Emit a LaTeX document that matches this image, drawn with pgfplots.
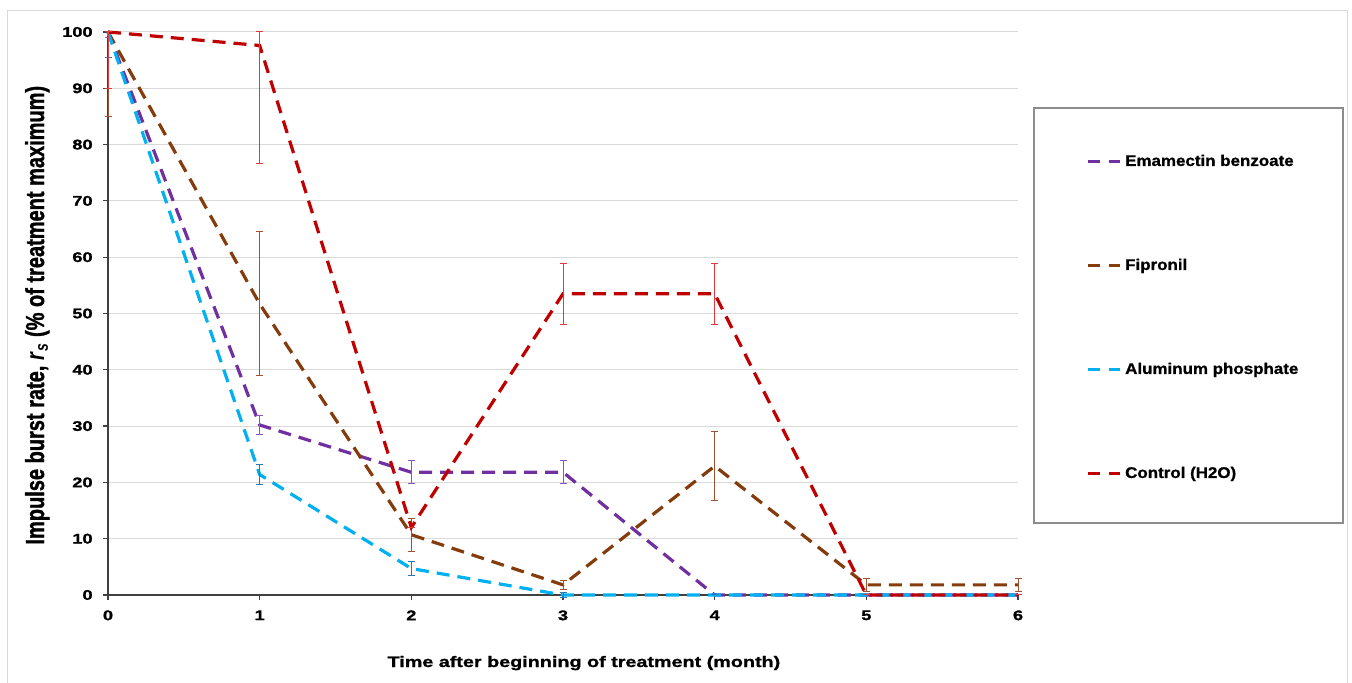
\documentclass[border=0pt]{standalone}
\usepackage{fontspec}
\setmainfont{Liberation Sans}
\newfontfamily\tickf{Liberation Sans}[FakeStretch=1.3, BoldFeatures={FakeBold=1.2}]
\newfontfamily\labf{Liberation Sans}[FakeStretch=1.3, BoldFeatures={FakeBold=1.2}]
\newfontfamily\legf{Liberation Sans}[FakeStretch=1.1, BoldFeatures={FakeBold=1.0}]
\newfontfamily\ylabf{Liberation Sans}[BoldFeatures={FakeBold=1.5}]
\usepackage{graphicx}
\usepackage{pgfplots}
\pgfplotsset{compat=1.18}

\definecolor{emam}{HTML}{7030A0}
\definecolor{fip}{HTML}{843C0C}
\definecolor{alu}{HTML}{00B0F0}
\definecolor{ctrl}{HTML}{C00000}
\definecolor{emamE}{HTML}{8A55C0}
\definecolor{fipE}{HTML}{A0522D}
\definecolor{aluE}{HTML}{2E75B6}
\definecolor{ctrlE}{HTML}{E03A3A}
\definecolor{gridgray}{HTML}{D9D9D9}
\definecolor{axisgray}{HTML}{404040}
\definecolor{framegray}{HTML}{D9D9D9}
\definecolor{leggray}{HTML}{8C8C8C}

\pgfplotstableread{
x y ep em
0 100 0 1
1 30.2 1.7 1.7
2 21.8 2 2
3 21.8 2 2
4 0 0 0
5 0 0 0
6 0 0 0
}\emamdata
\pgfplotstableread{
x y ep em
0 100 0 15
1 51.7 12.8 12.8
2 10.7 2.9 2.9
3 1.8 0.8 0.8
4 22.9 6.2 6.2
5 1.8 1.1 1.1
6 1.8 1.1 1.1
}\fipdata
\pgfplotstableread{
x y ep em
0 100 0 4.5
1 21.4 1.8 1.8
2 4.7 1.3 1.3
3 0 0.5 0.5
4 0 0 0
5 0 0 0
6 0 0 0
}\aludata
\pgfplotstableread{
x y ep em
0 100 0 10
1 97.6 2.4 21
2 12 0 0
3 53.5 5.4 5.4
4 53.5 5.4 5.4
5 0 0 0
6 0 0 0
}\ctrldata

\pgfplotsset{
  series/.style={color=#1, line width=1.6pt, dash pattern=on 6.5pt off 4pt, no markers,
    error bars/.cd, y dir=both, y explicit,
    error bar style={color=#1E, line width=0.5pt, solid},
    error mark options={rotate=90, mark size=1.75pt, line width=0.5pt, color=#1E, solid}},
}

\begin{document}
\begin{tikzpicture}
\useasboundingbox (0,0) rectangle (676pt,341.5pt);
% outer chart frame
\draw[framegray, line width=0.5pt] (3.5pt,-5pt) -- (3.5pt,336pt) -- (673.5pt,336pt) -- (673.5pt,-5pt);
% legend frame
\draw[leggray, line width=0.6pt] (517pt,80pt) rectangle (671.5pt,287.5pt);
\begin{axis}[
  at={(54pt,44pt)}, anchor=south west,
  scale only axis, width=455pt, height=281.5pt,
  xmin=0, xmax=6, ymin=0, ymax=100,
  xtick={0,1,2,3,4,5,6}, ytick={0,10,...,100},
  axis x line*=bottom, axis y line*=left,
  axis line style={color=axisgray, line width=0.75pt},
  tick align=outside, major tick length=2.5pt,
  tick style={color=axisgray, line width=0.6pt},
  ymajorgrids, grid style={color=gridgray, line width=0.5pt},
  clip=false,
  /pgf/number format/assume math mode=true,
  ticklabel style={font=\tickf\bfseries\fontsize{7}{8}\selectfont},
  yticklabel style={anchor=east, inner sep=0pt, xshift=-5pt},
  xticklabel style={anchor=north, inner sep=0pt, yshift=-5pt},
  xlabel={Time after beginning of treatment (month)},
  xlabel style={font=\labf\bfseries\fontsize{7.6}{9}\selectfont, at={(axis description cs:0.523,-0.1279)}, anchor=base},
  ylabel={\scalebox{1}[1.3]{Impulse burst rate, \textit{r}\textsubscript{\textit{s}} (\% of treatment maximum)}},
  ylabel style={font=\ylabf\bfseries\fontsize{10}{12}\selectfont, at={(axis description cs:-0.0703,0.497)}, anchor=base},
  legend style={at={(axis description cs:1.0747,0.7841)}, anchor=north west, draw=none, fill=none,
    row sep=44.5pt, inner sep=0pt,
    font=\legf\bfseries\fontsize{7.7}{9}\selectfont,
    nodes={inner sep=0pt, text height=6pt, text depth=1.5pt}},
  legend cell align=left,
  legend image code/.code={\draw[#1, line width=1.4pt, dash pattern=on 6pt off 4.5pt] (0pt,0pt) -- (16pt,0pt);},
]
\addplot[series=emam] table[x=x, y=y, y error plus=ep, y error minus=em] {\emamdata};
\addlegendentry{\hspace{2pt}Emamectin benzoate}
\addplot[series=fip] table[x=x, y=y, y error plus=ep, y error minus=em] {\fipdata};
\addlegendentry{\hspace{2pt}Fipronil}
\addplot[series=alu] table[x=x, y=y, y error plus=ep, y error minus=em] {\aludata};
\addlegendentry{\hspace{2pt}Aluminum phosphate}
\addplot[series=ctrl] table[x=x, y=y, y error plus=ep, y error minus=em] {\ctrldata};
\addlegendentry{\hspace{2pt}Control (H2O)}
\end{axis}
\end{tikzpicture}
\end{document}
